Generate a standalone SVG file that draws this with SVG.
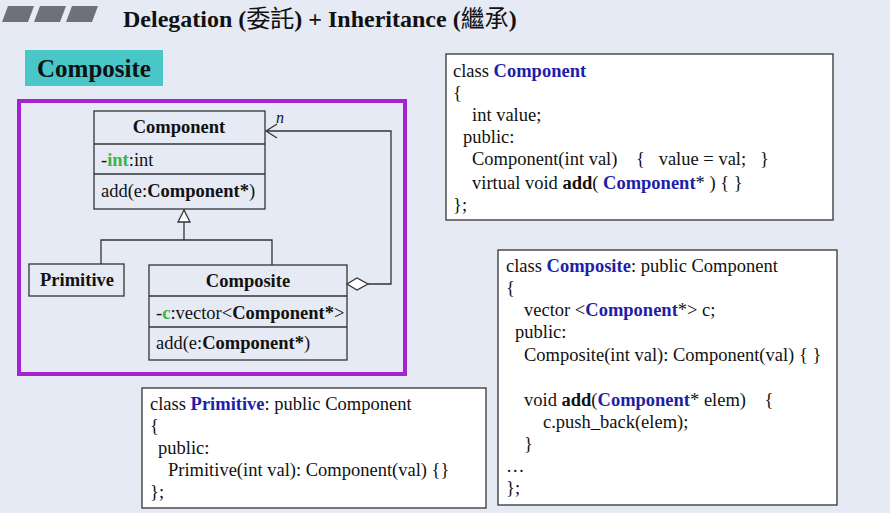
<svg xmlns="http://www.w3.org/2000/svg" width="890" height="513" viewBox="0 0 890 513">
<style>
text{font-family:"Liberation Serif","Noto Sans CJK TC",serif;fill:#111;font-size:18.5px}
.b{font-weight:bold}
.k{font-weight:bold;fill:#1e1ea8}
.g{font-weight:bold;fill:#3cb44a}
.box{fill:none;stroke:#333;stroke-width:1.3}
.code{fill:#fff;stroke:#333;stroke-width:1.3}
.ln{fill:none;stroke:#333;stroke-width:1.3}
</style>
<rect width="890" height="513" fill="#e6eaf5"/>
<g fill="#707078">
<polygon points="8,6 34,6 28,22 2,22"/><polygon points="40,6 66,6 60,22 34,22"/><polygon points="72,6 98,6 92,22 66,22"/>
</g>
<text x="123" y="27" class="b" style="font-size:24px">Delegation (<tspan style="font-weight:normal">委託</tspan>) + Inheritance (<tspan style="font-weight:normal">繼承</tspan>)</text>
<rect x="25" y="50" width="138" height="36" fill="#48c6c8"/>
<text x="37" y="77" class="b" style="font-size:25px">Composite</text>
<rect x="19" y="101" width="386" height="273" fill="none" stroke="#a424d2" stroke-width="4"/>
<g id="component">
<rect x="94" y="111" width="171" height="98" class="box"/>
<line x1="94" y1="144" x2="265" y2="144" class="ln"/><line x1="94" y1="174" x2="265" y2="174" class="ln"/>
<text x="179" y="133" text-anchor="middle" class="b">Component</text>
<text x="101" y="166">-<tspan class="g">int</tspan>:int</text>
<text x="101" y="197">add(e:<tspan class="b">Component*</tspan>)</text>
</g>
<g id="primitive">
<rect x="29" y="264" width="95" height="32" class="box"/>
<text x="77" y="286" text-anchor="middle" class="b">Primitive</text>
</g>
<g id="composite">
<rect x="149" y="265" width="198" height="95" class="box"/>
<line x1="149" y1="296" x2="347" y2="296" class="ln"/><line x1="149" y1="327" x2="347" y2="327" class="ln"/>
<text x="248" y="287" text-anchor="middle" class="b">Composite</text>
<text x="156" y="319">-<tspan class="g">c</tspan>:vector&lt;<tspan class="b">Component*</tspan>&gt;</text>
<text x="156" y="349">add(e:<tspan class="b">Component*</tspan>)</text>
</g>
<g id="connectors">
<polygon points="184,210 178,222 190,222" fill="#fff" stroke="#333" stroke-width="1.3"/>
<polyline points="184,222 184,240" class="ln"/>
<polyline points="101,264 101,240 272,240 272,265" class="ln"/>
<polygon points="347,284 357,278 368,284 357,290" fill="#fff" stroke="#333" stroke-width="1.3"/>
<polyline points="368,284 391,284 391,131 266,131" class="ln"/>
<polyline points="277,124 266,131 277,138" class="ln"/>
<text x="276" y="123" style="font-style:italic;font-size:16px">n</text>
</g>
<g id="code-component">
<rect x="446" y="54" width="387" height="166" class="code"/>
<text x="453" y="77">class <tspan class="k">Component</tspan></text>
<text x="453" y="99">{</text>
<text x="472" y="121">int value;</text>
<text x="463" y="143">public:</text>
<text x="472" y="165" xml:space="preserve">Component(int val)    {   value = val;   }</text>
<text x="472" y="189">virtual void <tspan class="b">add</tspan>( <tspan class="k">Component</tspan>* ) { }</text>
<text x="453" y="211">};</text>
</g>
<g id="code-composite">
<rect x="498" y="250" width="339" height="255" class="code"/>
<text x="506" y="272">class <tspan class="k">Composite</tspan>: public Component</text>
<text x="506" y="294">{</text>
<text x="524" y="316">vector &lt;<tspan class="k">Component</tspan>*&gt; c;</text>
<text x="515" y="338">public:</text>
<text x="524" y="361">Composite(int val): Component(val) { }</text>
<text x="524" y="406" xml:space="preserve">void <tspan class="b">add</tspan>(<tspan class="k">Component</tspan>* elem)    {</text>
<text x="543" y="428">c.push_back(elem);</text>
<text x="524" y="450">}</text>
<text x="506" y="472">…</text>
<text x="506" y="494">};</text>
</g>
<g id="code-primitive">
<rect x="142" y="388" width="344" height="120" class="code"/>
<text x="150" y="410">class <tspan class="k">Primitive</tspan>: public Component</text>
<text x="150" y="432">{</text>
<text x="158" y="454">public:</text>
<text x="168" y="476">Primitive(int val): Component(val) {}</text>
<text x="150" y="498">};</text>
</g>
</svg>
